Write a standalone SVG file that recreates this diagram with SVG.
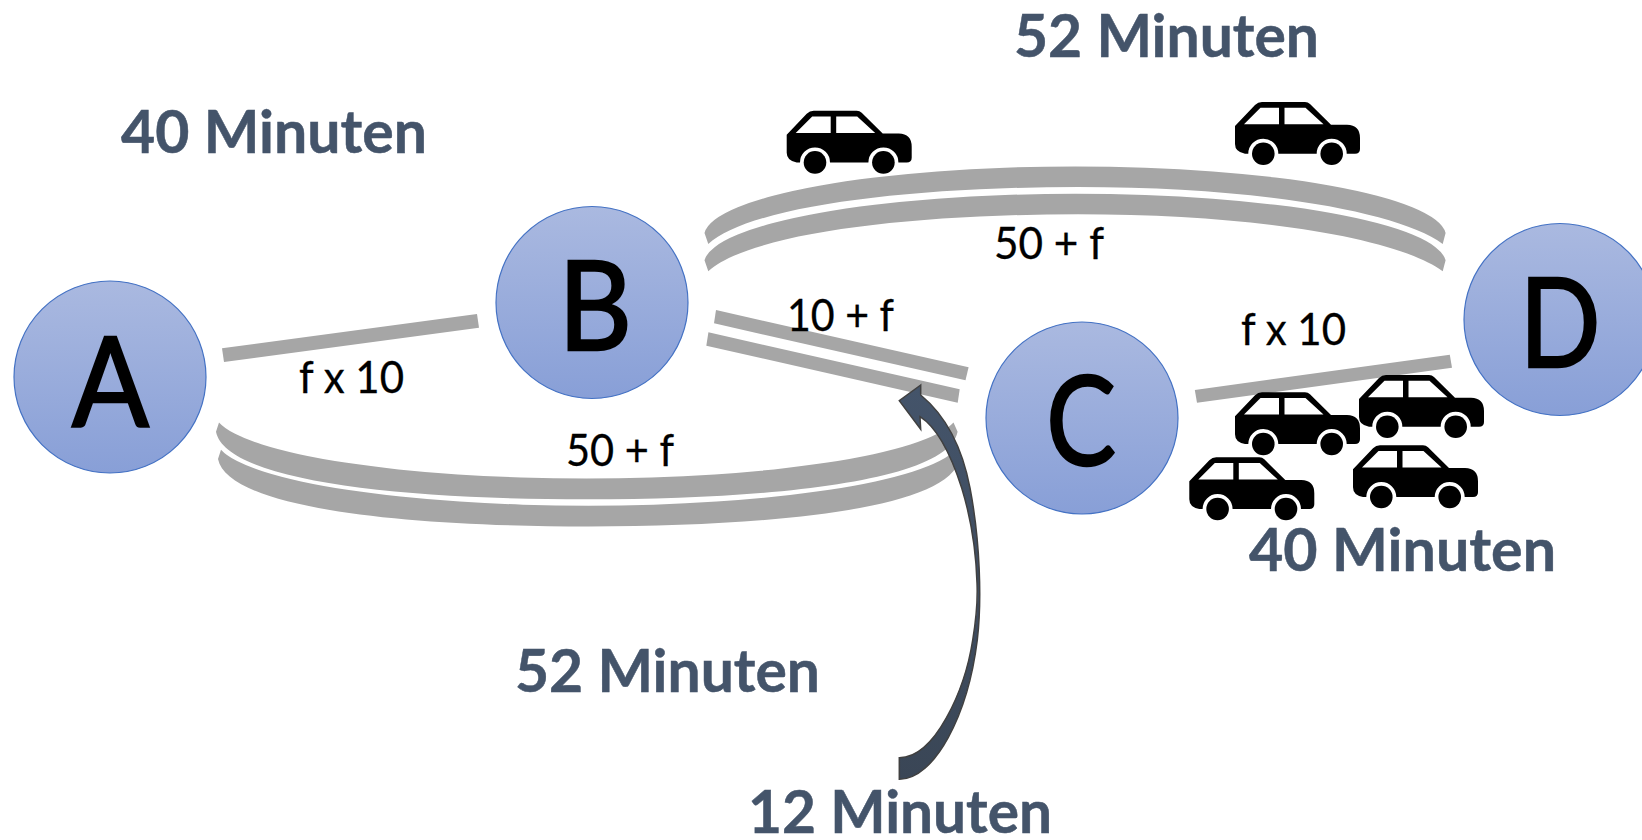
<svg xmlns="http://www.w3.org/2000/svg" xmlns:xlink="http://www.w3.org/1999/xlink" width="1642" height="840" viewBox="0 0 1642 840">
<style>
text{font-family:Lato,"Liberation Sans",sans-serif}
.node{fill:url(#nodeFill);stroke:#4472C4;stroke-width:1.2}
.letter{font-size:124px;fill:#000;stroke:#000;stroke-width:2.5;text-anchor:middle}
.time{font-size:59px;font-weight:700;fill:#44546A;stroke:#44546A;stroke-width:.5}
.cost{font-size:44px;fill:#000;stroke:#000;stroke-width:.3}
.road{fill:#A6A6A6;stroke:none}
.car{fill:#000;fill-rule:evenodd}
</style>
<defs>
<linearGradient id="nodeFill" x1="0" y1="0" x2="0" y2="1"><stop offset="0" stop-color="#AAB9E0"/><stop offset="1" stop-color="#889FD7"/></linearGradient>
<linearGradient id="arrowFill" x1="0" y1="0" x2="0" y2="1"><stop offset="0" stop-color="#44546A"/><stop offset="1" stop-color="#3A4656"/></linearGradient>
<symbol id="car" width="125" height="64" viewBox="0 0 125 64" overflow="visible">
<path class="car" d="M0 24L20 3Q23 0 27 0H70Q73 0 75 2L96 22.700H112Q125 23 125 36V47Q125 51.700 120 51.700H111.700A15 15 0 0 0 81.700 51.700H43.300A15 15 0 0 0 13.300 51.700H10Q0 50 0 42ZM9 22.300L25.500 5.700H44V22.300ZM49.500 5.700H70.500L88.500 22.300H49.500Z"/>
<circle cx="28.300" cy="51.700" r="11.300"/><circle cx="96.700" cy="51.700" r="11.300"/>
</symbol>
</defs>
<g id="connectors">
<polygon class="road" points="222,348.300 224,362 479,327.700 477,314"/>
<polygon class="road" points="1194.800,390 1197,402.700 1452,367.700 1449.800,354.700"/>
<polygon class="road" points="716,310 714,323.300 965.500,380.300 968.600,367.300"/>
<polygon class="road" points="708.400,332.300 706.300,345.700 957.700,402.700 959.700,389.300"/>
<path class="road" d="M708.300 244L704.500 233A371 70 0 0 1 1445.600 233L1442.700 244C1400 212 1260 187 1078 187C905 187 748 207 708.300 244Z"/>
<path class="road" transform="translate(0 27.300)" d="M708.300 244L704.500 233A371 70 0 0 1 1445.600 233L1442.700 244C1400 212 1260 187 1078 187C905 187 748 207 708.300 244Z"/>
<path class="road" d="M219 422.500L216 431.700C226 481 400 499.300 587 499.300C774 499.300 948 481 957.600 431.700L953.500 422.500A372 66.600 0 0 1 219 422.500Z"/>
<path class="road" transform="translate(2 27.200)" d="M219 422.500L216 431.700C226 481 400 499.300 587 499.300C774 499.300 948 481 957.600 431.700L953.500 422.500A372 66.600 0 0 1 219 422.500Z"/>
<path id="arrow" fill="url(#arrowFill)" stroke="#404040" stroke-width="1.500" stroke-linejoin="miter" d="M920.700 385L899.300 400.700L920.700 429.300L920 416.700C938 428 952 458 961.700 488C970 515 976 550 977 583C978 605 976 620 972.700 640C965 690 935 757.700 899.300 757.700V779.300C935 779 968 715 977.300 640C982 600 980 540 970 488C962 446 945 415 920.700 395Z"/>
</g>
<g id="node-A"><circle class="node" cx="110" cy="377" r="96"/><text class="letter" transform="translate(110.500 425.500) scale(.915 1)">A</text></g>
<g id="node-B"><circle class="node" cx="592" cy="302.500" r="96"/><text class="letter" transform="translate(595 349.800) scale(.92 1)">B</text></g>
<g id="node-C"><circle class="node" cx="1082" cy="418" r="96"/><text class="letter" transform="translate(1081 465) scale(.84 1)">C</text></g>
<g id="node-D"><circle class="node" cx="1560" cy="319.500" r="96"/><text class="letter" transform="translate(1560 366.500) scale(.86 1)">D</text></g>
<g id="cars">
<use xlink:href="#car" href="#car" x="786.700" y="110.700"/>
<use xlink:href="#car" href="#car" x="1235" y="102"/>
<use xlink:href="#car" href="#car" x="1235" y="392.300"/>
<use xlink:href="#car" href="#car" x="1359" y="375"/>
<use xlink:href="#car" href="#car" x="1189.300" y="457.300"/>
<use xlink:href="#car" href="#car" x="1353" y="445.300"/>
</g>
<g id="labels">
<text class="time" x="121" y="153.300" textLength="306" lengthAdjust="spacingAndGlyphs">40 Minuten</text>
<text class="time" x="1014" y="56.700" textLength="305" lengthAdjust="spacingAndGlyphs">52 Minuten</text>
<text class="time" x="515" y="692" textLength="305" lengthAdjust="spacingAndGlyphs">52 Minuten</text>
<text class="time" x="748" y="833" textLength="304" lengthAdjust="spacingAndGlyphs">12 Minuten</text>
<text class="time" x="1249" y="570.700" textLength="307" lengthAdjust="spacingAndGlyphs">40 Minuten</text>
<text class="cost" x="299" y="392.700" textLength="105" lengthAdjust="spacingAndGlyphs">f x 10</text>
<text class="cost" x="1241" y="344.700" textLength="105" lengthAdjust="spacingAndGlyphs">f x 10</text>
<text class="cost" x="994" y="258.700" textLength="110" lengthAdjust="spacingAndGlyphs">50 + f</text>
<text class="cost" x="566" y="465.700" textLength="108" lengthAdjust="spacingAndGlyphs">50 + f</text>
<text class="cost" x="787" y="330.700" textLength="107" lengthAdjust="spacingAndGlyphs">10 + f</text>
</g>
</svg>
